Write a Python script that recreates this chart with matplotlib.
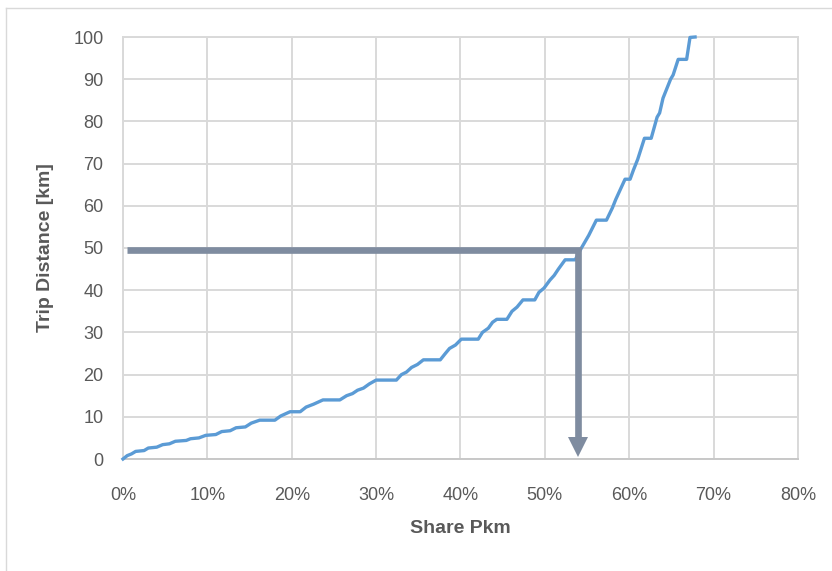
import matplotlib
matplotlib.use("Agg")
import matplotlib.pyplot as plt
from matplotlib.lines import Line2D
from matplotlib.ticker import FuncFormatter

# ---- data ----
share_pct = [0, 0.5, 1.0, 1.5, 2.5, 3.0, 4.0, 4.7, 5.5, 6.2, 7.5, 8.0, 9.0, 9.8, 11.0,
             11.7, 12.7, 13.4, 14.5, 15.2, 16.2, 18.0, 18.7, 19.8, 21.0, 21.7, 22.6,
             23.7, 25.7, 26.5, 27.2, 27.8, 28.5, 29.2, 30.0, 32.4, 33.0, 33.6, 34.2,
             34.9, 35.6, 37.6, 38.2, 38.7, 39.4, 40.1, 42.1, 42.6, 43.3, 43.8, 44.3,
             45.5, 46.1, 46.7, 47.4, 48.8, 49.3, 49.9, 50.6, 51.1, 51.6, 52.4,
             53.6, 54.3, 55.2, 56.1, 57.3, 58.0, 58.4, 59.5, 60.1, 60.5, 61.0, 61.8,
             62.6, 63.3, 63.6, 64.0, 64.9, 65.2, 65.8, 66.8, 67.2, 67.8]
trip_km = [0, 0.8, 1.2, 1.8, 2.0, 2.6, 2.8, 3.4, 3.6, 4.2, 4.4, 4.8, 5.0, 5.6, 5.8,
           6.5, 6.7, 7.4, 7.6, 8.5, 9.2, 9.2, 10.2, 11.2, 11.2, 12.3, 13.0,
           14.0, 14.0, 15.0, 15.5, 16.3, 16.8, 17.8, 18.7, 18.7, 20.0, 20.6, 21.7,
           22.4, 23.5, 23.5, 25.0, 26.2, 27.0, 28.4, 28.4, 30.0, 31.0, 32.4, 33.1,
           33.1, 35.0, 36.0, 37.7, 37.7, 39.5, 40.5, 42.4, 43.5, 45.0, 47.2,
           47.2, 49.9, 53.0, 56.6, 56.6, 59.5, 61.5, 66.3, 66.3, 68.5, 71.0, 76.0,
           76.0, 81.0, 82.0, 85.5, 90.0, 91.0, 94.7, 94.7, 99.9, 100.0]

threshold_km = 49.5
threshold_share_pct = 53.9
guide_start_pct = 0.5

x_ticks = [0, 10, 20, 30, 40, 50, 60, 70, 80]
y_ticks = [0, 10, 20, 30, 40, 50, 60, 70, 80, 90, 100]

# ---- styling ----
plt.rcParams['font.family'] = ['Liberation Sans', 'DejaVu Sans']
TXT = '#595959'
GRID = '#d9d9d9'
BLUE = '#5b9bd5'
GUIDE = '#7f8ca0'

fig = plt.figure(figsize=(8.32, 5.71), dpi=100)
fig.patch.set_facecolor('white')
# faint outer chart border (top and left visible)
fig.add_artist(Line2D([6/832, 6/832], [0, 1 - 8/571], transform=fig.transFigure,
                      color=GRID, lw=1))
fig.add_artist(Line2D([6/832, 1], [1 - 8/571, 1 - 8/571], transform=fig.transFigure,
                      color=GRID, lw=1))

ax = fig.add_axes([123/832, 1 - 459/571, (798 - 123)/832, (459 - 37)/571])
ax.set_xlim(0, 80)
ax.set_ylim(0, 100)
ax.set_xticks(x_ticks)
ax.set_yticks(y_ticks)
ax.xaxis.set_major_formatter(FuncFormatter(lambda v, p: f"{int(v)}%"))
ax.grid(True, color=GRID, lw=1.4)
ax.set_axisbelow(True)
for s in ax.spines.values():
    s.set_color(GRID)
    s.set_linewidth(1.4)
ax.spines['bottom'].set_color('#c8c8c8')
ax.tick_params(length=0, colors=TXT, labelsize=13)
ax.tick_params(axis='x', pad=20)
ax.tick_params(axis='y', pad=14)

ax.plot(share_pct, trip_km, color=BLUE, lw=2.4, zorder=3, clip_on=False)

# guide line with arrow
ax.plot([guide_start_pct, threshold_share_pct, threshold_share_pct],
        [threshold_km, threshold_km, 4.0],
        color=GUIDE, lw=4.8, solid_capstyle='butt', solid_joinstyle='miter', zorder=4)
ax.plot([threshold_share_pct], [2.9], marker='v', markersize=14, color=GUIDE,
        markeredgewidth=0, zorder=4)

ax.set_xlabel('Share Pkm', fontsize=14, fontweight='bold', color=TXT, labelpad=12)
ax.set_ylabel('Trip Distance [km]', fontsize=14, fontweight='bold', color=TXT, labelpad=14)

fig.savefig('out.png', dpi=100, facecolor='white')
